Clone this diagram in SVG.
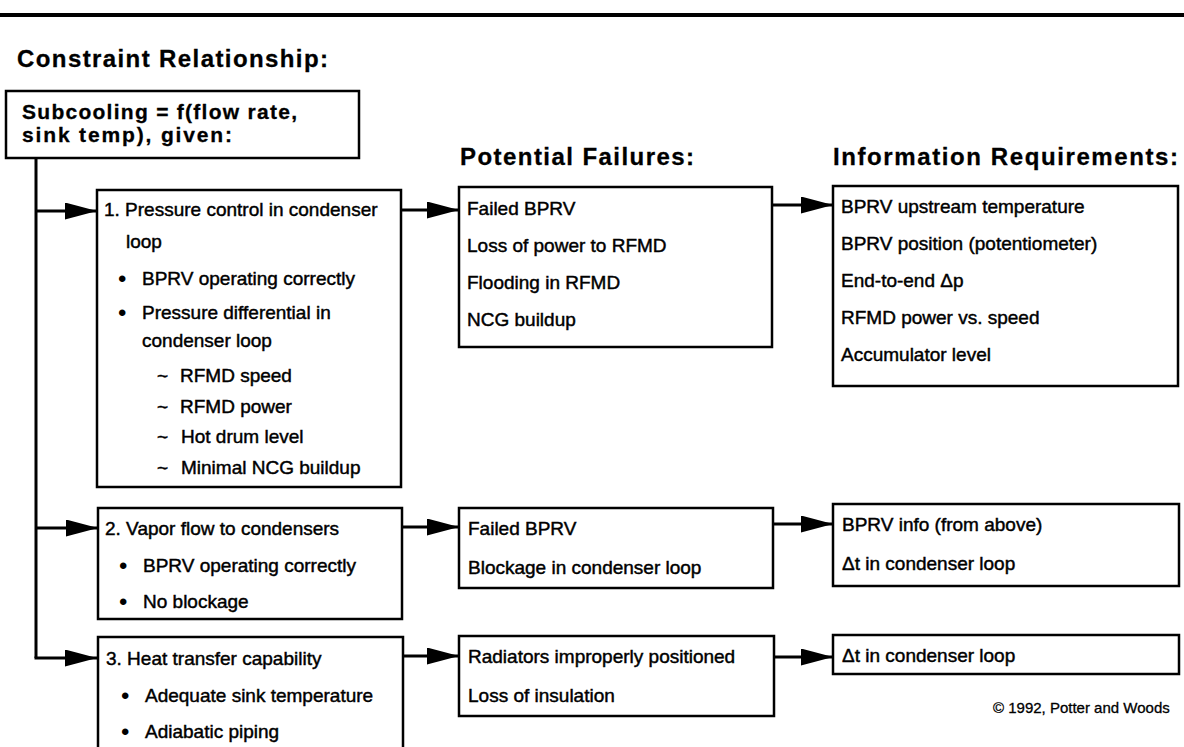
<svg xmlns="http://www.w3.org/2000/svg" width="1184" height="747" viewBox="0 0 1184 747">
<defs>
<marker id="ah" markerUnits="userSpaceOnUse" markerWidth="32" markerHeight="17" refX="32" refY="8.5" orient="auto">
<path d="M0,0 L32,8.5 L0,17 z" fill="#000"/>
</marker>
<style>
.box{fill:#fff;stroke:#000;stroke-width:2.5}
.t{font-family:"Liberation Sans",Arial,sans-serif;font-size:19px;fill:#000;stroke:#000;stroke-width:0.45}
.h{font-family:"Liberation Sans",Arial,sans-serif;font-size:24px;font-weight:bold;fill:#000;stroke:#000;stroke-width:0.3}
.s{font-family:"Liberation Sans",Arial,sans-serif;font-size:21px;font-weight:bold;fill:#000;stroke:#000;stroke-width:0.3}
.b{font-family:"Liberation Sans",Arial,sans-serif;font-size:24px;fill:#000}
.c{fill:none;stroke:#000;stroke-width:3}
.cp{font-family:"Liberation Sans",Arial,sans-serif;font-size:15px;fill:#000;stroke:#000;stroke-width:0.3}
</style>
</defs>
<rect x="0" y="13" width="1184" height="4" fill="#000"/>
<text class="h" x="17" y="67" textLength="311" lengthAdjust="spacing">Constraint Relationship:</text>
<text class="h" x="460" y="165" textLength="234" lengthAdjust="spacing">Potential Failures:</text>
<text class="h" x="833" y="165" textLength="345" lengthAdjust="spacing">Information Requirements:</text>

<g id="connectors">
<path class="c" d="M36,158 V658"/>
<path class="c" d="M34.5,658 H97" marker-end="url(#ah)"/>
<path class="c" d="M36,211 H97" marker-end="url(#ah)"/>
<path class="c" d="M36,528 H98" marker-end="url(#ah)"/>
<path class="c" d="M401,210 H459" marker-end="url(#ah)"/>
<path class="c" d="M402,527 H459" marker-end="url(#ah)"/>
<path class="c" d="M403,656 H459" marker-end="url(#ah)"/>
<path class="c" d="M772,205 H833" marker-end="url(#ah)"/>
<path class="c" d="M773,524 H833" marker-end="url(#ah)"/>
<path class="c" d="M774,657 H833" marker-end="url(#ah)"/>
</g>

<g id="subcooling">
<rect class="box" x="6" y="91" width="353" height="67"/>
<text class="s" x="22" y="119" textLength="275" lengthAdjust="spacing">Subcooling = f(flow rate,</text>
<text class="s" x="22" y="142" textLength="210" lengthAdjust="spacing">sink temp), given:</text>
</g>

<g id="constraint1">
<rect class="box" x="97" y="190" width="304" height="297"/>
<text class="t" x="104" y="216">1. Pressure control in condenser</text>
<text class="t" x="126" y="248">loop</text>
<text class="b" x="118" y="287">•</text>
<text class="t" x="142" y="285">BPRV operating correctly</text>
<text class="b" x="118" y="321">•</text>
<text class="t" x="142" y="319">Pressure differential in</text>
<text class="t" x="142" y="347">condenser loop</text>
<text class="t" x="157" y="382">~</text>
<text class="t" x="180" y="382">RFMD speed</text>
<text class="t" x="157" y="413">~</text>
<text class="t" x="180" y="413">RFMD power</text>
<text class="t" x="157" y="443">~</text>
<text class="t" x="181" y="443">Hot drum level</text>
<text class="t" x="157" y="474">~</text>
<text class="t" x="181" y="474">Minimal NCG buildup</text>
</g>

<g id="constraint2">
<rect class="box" x="98" y="508" width="304" height="111"/>
<text class="t" x="105" y="535">2. Vapor flow to condensers</text>
<text class="b" x="119" y="574">•</text>
<text class="t" x="143" y="572">BPRV operating correctly</text>
<text class="b" x="119" y="610">•</text>
<text class="t" x="143" y="608">No blockage</text>
</g>

<g id="constraint3">
<path class="box" d="M98,750 V637 H403 V750"/>
<text class="t" x="106" y="665">3. Heat transfer capability</text>
<text class="b" x="121" y="704">•</text>
<text class="t" x="145" y="702">Adequate sink temperature</text>
<text class="b" x="121" y="740">•</text>
<text class="t" x="145" y="738">Adiabatic piping</text>
</g>

<g id="failures1">
<rect class="box" x="459" y="187" width="313" height="160"/>
<text class="t" x="467" y="215">Failed BPRV</text>
<text class="t" x="467" y="252">Loss of power to RFMD</text>
<text class="t" x="467" y="289">Flooding in RFMD</text>
<text class="t" x="467" y="326">NCG buildup</text>
</g>

<g id="failures2">
<rect class="box" x="459" y="508" width="314" height="80"/>
<text class="t" x="468" y="535">Failed BPRV</text>
<text class="t" x="468" y="574">Blockage in condenser loop</text>
</g>

<g id="failures3">
<rect class="box" x="459" y="636" width="315" height="80"/>
<text class="t" x="468" y="663">Radiators improperly positioned</text>
<text class="t" x="468" y="702">Loss of insulation</text>
</g>

<g id="info1">
<rect class="box" x="833" y="186" width="345" height="200"/>
<text class="t" x="841" y="213">BPRV upstream temperature</text>
<text class="t" x="841" y="250">BPRV position (potentiometer)</text>
<text class="t" x="841" y="287">End-to-end Δp</text>
<text class="t" x="841" y="324">RFMD power vs. speed</text>
<text class="t" x="841" y="361">Accumulator level</text>
</g>

<g id="info2">
<rect class="box" x="833" y="504" width="346" height="82"/>
<text class="t" x="842" y="531">BPRV info (from above)</text>
<text class="t" x="842" y="570">Δt in condenser loop</text>
</g>

<g id="info3">
<rect class="box" x="833" y="635" width="346" height="39"/>
<text class="t" x="842" y="662">Δt in condenser loop</text>
</g>

<text class="cp" x="993" y="713">© 1992, Potter and Woods</text>
</svg>
